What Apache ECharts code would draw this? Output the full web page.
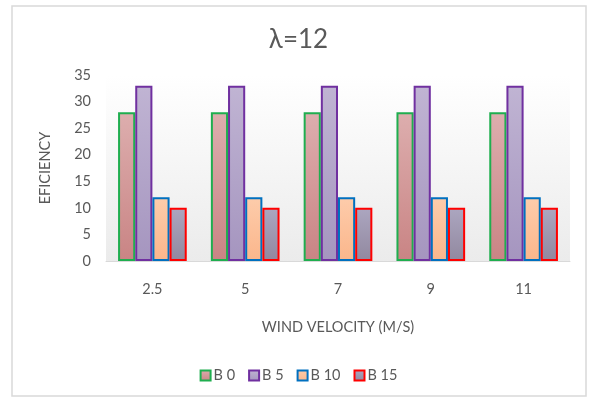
<!DOCTYPE html>
<html>
<head>
<meta charset="utf-8">
<script src="https://cdn.jsdelivr.net/npm/echarts@6/dist/echarts.min.js"></script>
<style>
  html, body { margin: 0; padding: 0; background: #ffffff; }
  #chart { width: 597px; height: 403px; }
</style>
</head>
<body>
<div id="chart"></div>
<script>
// Wind velocity categories (m/s)
const categories = ['2.5', '5', '7', '9', '11'];
// Efficiency per blade setting
const seriesNames = ['B 0', 'B 5', 'B 10', 'B 15'];
const b0 = [28, 28, 28, 28, 28];
const b5 = [33, 33, 33, 33, 33];
const b10 = [12, 12, 12, 12, 12];
const b15 = [10, 10, 10, 10, 10];
const yTicks = [0, 5, 10, 15, 20, 25, 30, 35];

const FONT = 'Lato, "Open Sans", sans-serif';
const TEXT = '#595959';

// fill gradient (top, bottom) and outline colour per series
const styles = [
  { top: '#ddaeae', bottom: '#c98484', border: '#1fae4f' },
  { top: '#c0b4d3', bottom: '#a595bf', border: '#7030a0' },
  { top: '#fdccab', bottom: '#fbb68b', border: '#0070c0' },
  { top: '#aca6c0', bottom: '#91889f', border: '#ff0000' }
];

function grad(s) {
  return {
    type: 'linear', x: 0, y: 0, x2: 0, y2: 1,
    colorStops: [{ offset: 0, color: s.top }, { offset: 1, color: s.bottom }]
  };
}

const values = [b0, b5, b10, b15];
const series = seriesNames.map((name, i) => ({
  name: name,
  type: 'bar',
  data: values[i],
  barGap: '0%',
  barCategoryGap: '26%',
  itemStyle: {
    color: grad(styles[i]),
    borderColor: styles[i].border,
    borderWidth: 2
  }
}));

const chart = echarts.init(document.getElementById('chart'), null, { renderer: 'canvas' });
chart.setOption({
  backgroundColor: '#ffffff',
  animation: false,
  graphic: [{
    type: 'rect',
    shape: { x: 12, y: 6, width: 574, height: 390 },
    style: { fill: 'none', stroke: '#d9d9d9', lineWidth: 1.5 },
    z: -1
  }],
  title: {
    text: 'λ=12',
    left: 'center',
    top: 22,
    textStyle: { fontFamily: FONT, fontSize: 26, fontWeight: 'normal', color: TEXT }
  },
  legend: {
    data: seriesNames,
    bottom: 15,
    left: 'center',
    icon: 'rect',
    itemWidth: 10,
    itemHeight: 10,
    itemGap: 13,
    textStyle: { fontFamily: FONT, fontSize: 14.5, color: TEXT, padding: [0, 0, 0, -2] }
  },
  grid: {
    left: 106,
    right: 27,
    top: 75,
    bottom: 142,
    show: true,
    borderWidth: 0,
    backgroundColor: {
      type: 'linear', x: 0, y: 0, x2: 0, y2: 1,
      colorStops: [{ offset: 0, color: '#ffffff' }, { offset: 1, color: '#ebebeb' }]
    }
  },
  xAxis: {
    type: 'category',
    data: categories,
    name: 'WIND VELOCITY (M/S)',
    nameLocation: 'middle',
    nameGap: 59,
    nameTextStyle: { fontFamily: FONT, fontSize: 14.5, color: TEXT },
    axisLine: { lineStyle: { color: '#d9d9d9', width: 1 } },
    axisTick: { show: false },
    axisLabel: { fontFamily: FONT, fontSize: 14.5, color: TEXT, margin: 21 }
  },
  yAxis: {
    type: 'value',
    min: yTicks[0],
    max: yTicks[yTicks.length - 1],
    interval: 5,
    name: 'EFICIENCY',
    nameLocation: 'middle',
    nameGap: 53,
    nameTextStyle: { fontFamily: FONT, fontSize: 14.5, color: TEXT },
    axisLine: { show: false },
    axisTick: { show: false },
    splitLine: { show: false },
    axisLabel: { fontFamily: FONT, fontSize: 14.5, color: TEXT, margin: 15 }
  },
  series: series
});
</script>
</body>
</html>
